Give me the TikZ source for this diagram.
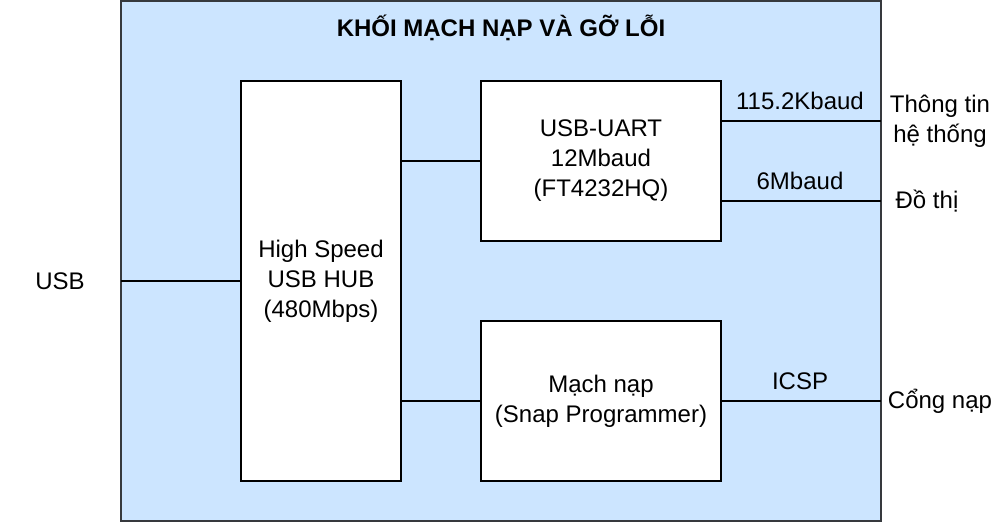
\documentclass[tikz,border=0pt]{standalone}
\usepackage{fontspec}
\setmainfont{Liberation Sans}
\definecolor{outerfill}{HTML}{CCE5FF}
\definecolor{outerline}{HTML}{36393D}
\begin{document}
\begin{tikzpicture}[x=1pt,y=-1pt,
  txt/.style={font=\fontsize{24}{30}\selectfont, align=center, inner sep=0pt},
  blk/.style={draw=black, fill=white, line width=1.3pt},
  conn/.style={draw=black, line width=1.3pt}]
\useasboundingbox (0,0) rectangle (1000,522);
\draw[fill=outerfill, draw=outerline, line width=1.3pt] (121,1) rectangle (881,521);
\node[txt, font=\fontsize{24}{30}\selectfont\bfseries] (title) at (501,28) {KHỐI MẠCH NẠP VÀ GỠ LỖI};
\node[blk, minimum width=160pt, minimum height=400pt, inner sep=0pt] (hub) at (321,281) {};
\node[txt] at (hub.center) {High Speed\\USB HUB\\(480Mbps)};
\node[blk, minimum width=240pt, minimum height=160pt, inner sep=0pt] (uart) at (601,161) {};
\node[txt] at (uart.center) {USB-UART\\12Mbaud\\(FT4232HQ)};
\node[blk, minimum width=240pt, minimum height=160pt, inner sep=0pt] (prog) at (601,401) {};
\node[txt] at (prog.center) {Mạch nạp\\(Snap Programmer)};
\node[txt] (usb) at (60,281) {USB};
\coordinate (usbin) at (121,281);
\coordinate (sys) at (881,121);
\coordinate (graph) at (881,201);
\coordinate (port) at (881,401);
\node[txt] (sysl) at (940,121) {Thông tin\\hệ thống};
\node[txt] (graphl) at (927,201) {Đồ thị};
\node[txt] (portl) at (940,401) {Cổng nạp};
\draw[conn] (usbin) -- (hub.west);
\draw[conn] (hub.east |- uart.west) -- (uart.west);
\draw[conn] (hub.east |- prog.west) -- (prog.west);
\draw[conn] (uart.east |- sys) -- (sys);
\draw[conn] (uart.east |- graph) -- (graph);
\draw[conn] (prog.east) -- (port);
\node[txt] at (800,101) {115.2Kbaud};
\node[txt] at (800,181) {6Mbaud};
\node[txt] at (800,381) {ICSP};
\end{tikzpicture}
\end{document}
